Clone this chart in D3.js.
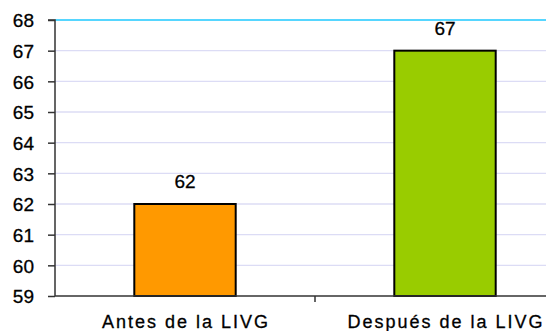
<!DOCTYPE html>
<html><head><meta charset="utf-8">
<script src="https://cdn.jsdelivr.net/npm/d3@7"></script>
<style>body{margin:0;background:#fff}svg{display:block}text{font-family:"Liberation Sans",Arial,sans-serif;fill:#000;stroke:#000;stroke-width:0.3px}</style>
</head><body><svg id="c" width="546" height="331"></svg>
<script>
const categories = ["Antes de la LIVG", "Después de la LIVG"];
const values = [62, 67];
const barColors = ["#FF9900", "#99CC00"];
const yTicks = [59, 60, 61, 62, 63, 64, 65, 66, 67, 68];

const svg = d3.select("#c");
const mL = 55, mR = 575, mT = 20, mB = 296;
const x = d3.scaleBand().domain(categories).range([mL, mR]).padding(0);
const y = d3.scaleLinear().domain([59, 68]).range([mB, mT]);
const bw = x.bandwidth() * 0.39;

// gridlines
svg.append("g").selectAll("line").data(yTicks.filter(t => t > 59 && t < 68)).join("line")
  .attr("x1", mL).attr("x2", 546).attr("y1", d => y(d)).attr("y2", d => y(d))
  .attr("stroke", "#DCDCF5").attr("stroke-width", 1.3);
svg.append("line").attr("x1", mL).attr("x2", 546).attr("y1", y(68)).attr("y2", y(68))
  .attr("stroke", "#1EC8FF").attr("stroke-width", 1.5);

// bars
svg.append("g").selectAll("rect").data(values).join("rect")
  .attr("x", (d, i) => x(categories[i]) + x.bandwidth() / 2 - bw / 2)
  .attr("y", d => y(d)).attr("width", bw).attr("height", d => mB - y(d))
  .attr("fill", (d, i) => barColors[i]).attr("stroke", "#000").attr("stroke-width", 2);

// value labels
svg.append("g").selectAll("text").data(values).join("text")
  .attr("x", (d, i) => x(categories[i]) + x.bandwidth() / 2)
  .attr("y", d => y(d) - 16).attr("text-anchor", "middle")
  .style("font-size", "19px").text(d => d);

// y axis
const ya = svg.append("g").attr("transform", `translate(${mL},0)`)
  .call(d3.axisLeft(y).tickValues(yTicks).tickSize(7).tickPadding(14).tickFormat(d3.format("d")));
ya.select(".domain").attr("stroke", "#333").attr("stroke-width", 1.5).attr("d", `M-7,${mT}H0V${mB}`);
ya.selectAll(".tick line").attr("stroke", "#333").attr("stroke-width", 1.5);
ya.selectAll(".tick text").style("font-size", "19px").attr("fill", "#000").attr("dy", "0.36em");

// x axis
svg.append("line").attr("x1", mL).attr("x2", 546).attr("y1", mB).attr("y2", mB)
  .attr("stroke", "#333").attr("stroke-width", 1.5);
svg.append("line").attr("x1", x(categories[1])).attr("x2", x(categories[1]))
  .attr("y1", mB).attr("y2", mB + 6).attr("stroke", "#333").attr("stroke-width", 1.5);
svg.append("g").selectAll("text").data(categories).join("text")
  .attr("x", d => x(d) + x.bandwidth() / 2 + 1).attr("y", 328).attr("text-anchor", "middle")
  .style("font-size", "18px").style("letter-spacing", "2px").text(d => d);
</script></body></html>
